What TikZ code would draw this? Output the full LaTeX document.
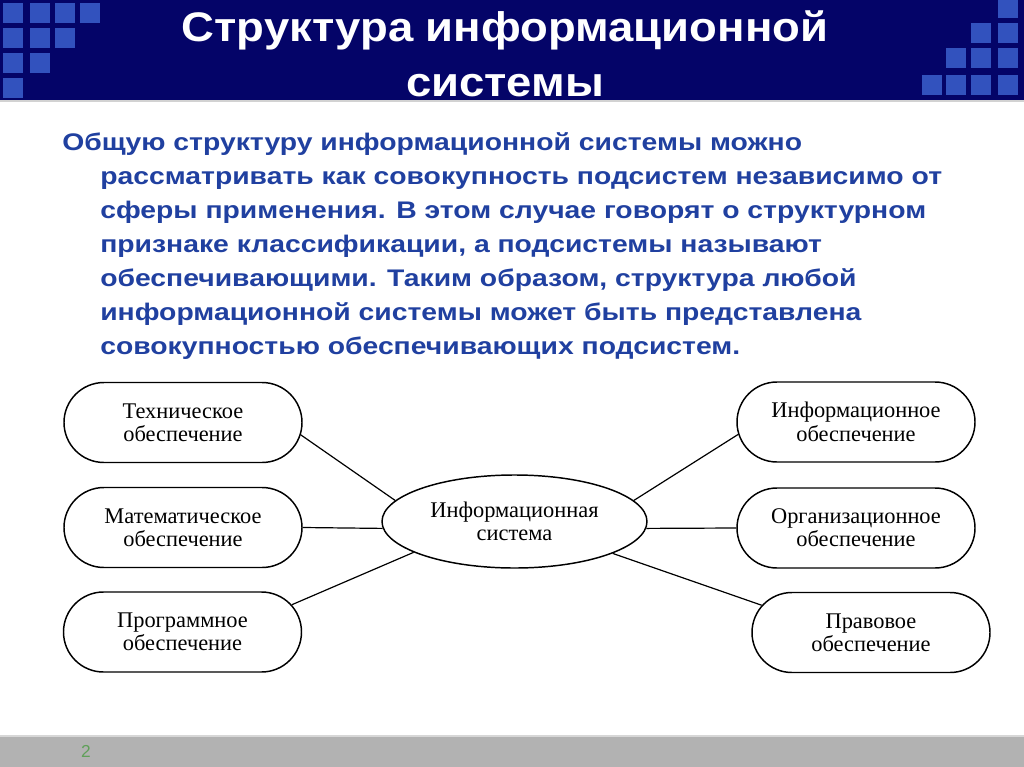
\documentclass[tikz,border=0pt]{standalone}
\usepackage{fontspec}
\setmainfont{Liberation Serif}
\newfontfamily\arialf{Liberation Sans}
\usetikzlibrary{shapes.misc,shapes.geometric}
\definecolor{navy}{RGB}{4,4,104}
\definecolor{sq}{RGB}{50,82,190}
\definecolor{bodyblue}{RGB}{32,64,160}
\definecolor{barg}{RGB}{178,178,178}
\definecolor{barl}{RGB}{215,215,215}
\definecolor{pgreen}{RGB}{96,160,90}
\newcommand\hstretch[1]{\scalebox{1.18}[1]{#1}}
\newcommand\tstretch[1]{\scalebox{1.1}[1]{#1}}
\begin{document}
\begin{tikzpicture}[x=0.75pt,y=-0.75pt,
  sqbox/.style={fill=sq},
  titletext/.style={text=white,font=\arialf\bfseries\fontsize{31pt}{33pt}\selectfont,inner sep=0pt,anchor=base},
  bodytext/.style={text=bodyblue,font=\arialf\bfseries\fontsize{18pt}{20pt}\selectfont,inner sep=0pt,anchor=base west},
  sub/.style={draw,line width=1.1pt,rounded rectangle,minimum width=178.5pt,minimum height=60pt,inner sep=0pt,align=center,font=\fontsize{16.8pt}{17.5pt}\selectfont},
  central/.style={draw,line width=1.1pt,ellipse,minimum width=198.75pt,minimum height=69.75pt,inner sep=0pt,align=center,font=\fontsize{16.8pt}{17.5pt}\selectfont},
  link/.style={line width=0.9pt}]
\useasboundingbox (0,0) rectangle (1024,767);
\fill[white] (0,0) rectangle (1024,767);
% banner
\fill[navy] (0,0) rectangle (1024,100);
\fill[gray!35] (0,100) rectangle (1024,102);
% left squares
\foreach \r/\n in {0/4,1/3,2/2,3/1}{
  \foreach \c in {1,...,\n}{
    \pgfmathsetmacro{\xx}{{3,30,55,80}[\c-1]}
    \pgfmathsetmacro{\yy}{3+25*\r}
    \fill[sqbox] (\xx,\yy) rectangle +(20,20);
  }
}
% right squares
\foreach \r/\s in {0/3,1/2,2/1,3/0}{
  \foreach \c in {\s,...,3}{
    \pgfmathsetmacro{\xx}{{922,946,971,998}[\c]}
    \pgfmathsetmacro{\yy}{{-2,23,48,75}[\r]}
    \fill[sqbox] (\xx,\yy) rectangle +(20,20);
  }
}
\node[titletext] (t1) at (505,42) {\tstretch{Структура информационной}};
\node[titletext] (t2) at (505,97) {\tstretch{системы}};
% body text
\node[bodytext] (b1) at (62,150) {\hstretch{Общую структуру информационной системы можно}};
\node[bodytext] (b2) at (100,184) {\hstretch{рассматривать как совокупность подсистем независимо от}};
\node[bodytext] (b3) at (100,218) {\hstretch{сферы применения. В этом случае говорят о структурном}};
\node[bodytext] (b4) at (100,252) {\hstretch{признаке классификации, а подсистемы называют}};
\node[bodytext] (b5) at (100,286) {\hstretch{обеспечивающими. Таким образом, структура любой}};
\node[bodytext] (b6) at (100,320) {\hstretch{информационной системы может быть представлена}};
\node[bodytext] (b7) at (100,354) {\hstretch{совокупностью обеспечивающих подсистем.}};
% diagram
\node[central] (c) at (514.5,521.5) {Информационная\\система};
\node[sub] (l1) at (183,422.5) {Техническое\\обеспечение};
\node[sub] (l2) at (183,527.5) {Математическое\\обеспечение};
\node[sub] (l3) at (182.5,632) {Программное\\обеспечение};
\node[sub] (r1) at (856,422) {Информационное\\обеспечение};
\node[sub] (r2) at (856,528) {Организационное\\обеспечение};
\node[sub] (r3) at (871,632.5) {Правовое\\обеспечение};
\draw[link] (l1.-6) -- (c.170);
\draw[link] (l2.east) -- (c.183);
\draw[link] (l3.14) -- (c.197);
\draw[link] (r1.186) -- (c.10);
\draw[link] (r2.west) -- (c.-3);
\draw[link] (r3.166) -- (c.-18);
% footer bar
\fill[barg] (0,735) rectangle (1024,767);
\fill[barl] (0,735) rectangle (1024,737);
\node[text=pgreen,font=\arialf\fontsize{13pt}{15pt}\selectfont,inner sep=0pt,anchor=base] (pn) at (86,757) {2};
\end{tikzpicture}
\end{document}
